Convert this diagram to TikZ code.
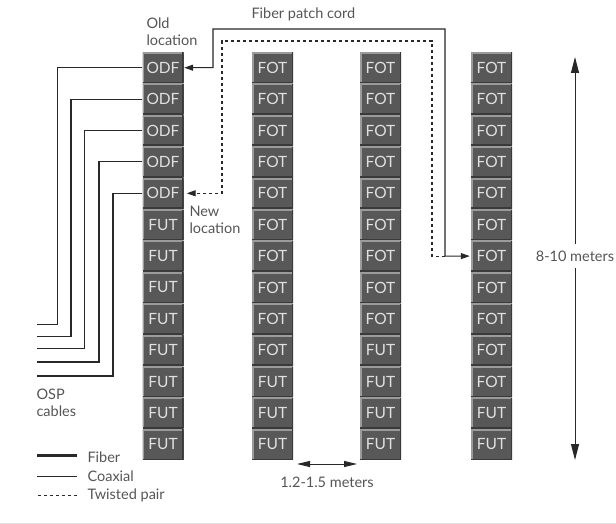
\documentclass[tikz,border=0pt]{standalone}
\usepackage{fontspec}
\setmainfont{Lato}
\usetikzlibrary{arrows.meta,positioning,calc}
\definecolor{unitfill}{RGB}{88,88,88}
\definecolor{unitlight}{RGB}{155,155,155}
\definecolor{unitdark}{RGB}{58,58,58}
\definecolor{labelgray}{RGB}{85,85,85}
\definecolor{linegray}{RGB}{40,40,40}

\begin{document}
\begin{tikzpicture}[x=1pt,y=-1pt,
  every node/.style={font=\fontsize{14.5}{17}\selectfont,text=labelgray},
  rackunit/.style={rectangle,fill=unitfill,minimum width=41pt,minimum height=30.4pt,
                   inner sep=0pt,font=\fontsize{15.5}{17}\selectfont,text=black!12,
                   path picture={
                     \draw[unitlight,line width=3pt]
                       (path picture bounding box.south west) -- (path picture bounding box.north west)
                       -- (path picture bounding box.north east);
                     \draw[unitdark,line width=2.4pt]
                       (path picture bounding box.north east) -- (path picture bounding box.south east)
                       -- (path picture bounding box.south west);}},
  cable/.style={draw=linegray,line width=1.1pt},
  cord/.style={cable,{Triangle[length=9pt,width=6pt]}-{Triangle[length=9pt,width=6pt]}},
  pair/.style={cable,dash pattern=on 3pt off 3pt,-{Triangle[length=9pt,width=6pt]}},
  dimarrow/.style={draw=linegray,line width=1pt,-{Triangle[length=16pt,width=8pt]}},
  twoway/.style={draw=linegray,line width=1pt,
                 {Triangle[length=13pt,width=6pt]}-{Triangle[length=13pt,width=6pt]}},
]
\useasboundingbox (0,0) rectangle (616,524);

% Rack column with ODF and FUT units
\foreach \row in {1,...,13}{
  \ifnum\row>5\relax\def\unit{FUT}\else\def\unit{ODF}\fi
  \node[rackunit] (c1r\row) at (163,{67.7+31.4*(\row-1)}) {\unit};
}

% Racks of FOT and FUT units
\foreach \col/\x/\last in {2/272.5/10,3/380.5/9,4/491.5/11}{
  \foreach \row in {1,...,13}{
    \ifnum\row>\last\relax\def\unit{FUT}\else\def\unit{FOT}\fi
    \node[rackunit] (c\col r\row) at (\x,{67.7+31.4*(\row-1)}) {\unit};
  }
}

% OSP cables into the ODF units
\foreach \row/\xv/\yend in {1/57.5/324.5,2/71/336.5,3/84.5/348.5,4/99/362,5/113/376}{
  \coordinate (osp\row) at (37,\yend);
  \draw[cable] (c1r\row.west) -| (\xv,\yend) -- (osp\row);
}
\node[anchor=west,align=left] (osp) at (33,403) {OSP\\cables};

% Fiber patch cord
\draw[cord,shorten <=0.5pt,shorten >=1pt] (c1r1.east) -| (213,29) -| (445,256.1) -- (c4r7.west);
\node[anchor=west] (cordlabel) at (248,14) {Fiber patch cord};
\node[anchor=west,align=left] (oldloc) at (143,32) {Old\\location};

% Twisted pair route
\draw[pair,shorten >=3pt] (445,256.1) -- (432,256.1) |- (222,41) |- (c1r5.east);
\node[anchor=west,align=left] (newloc) at (186,220) {New\\location};

% Row height
\node[inner sep=6pt] (height) at (575,256) {8-10 meters};
\coordinate (htop) at (575,57);
\coordinate (hbot) at (575,460);
\draw[dimarrow] (height.north) -- (htop);
\draw[dimarrow] (height.south) -- (hbot);

% Aisle width
\coordinate (aislel) at (297,464);
\coordinate (aisler) at (357,464);
\draw[twoway] (aislel) -- (aisler);
\node (aisle) at (327,482) {1.2-1.5 meters};

% Legend
\node[anchor=west] (fiberkey) at (84,457) {Fiber};
\node[anchor=west] (coaxkey) at (84,476.5) {Coaxial};
\node[anchor=west] (pairkey) at (84,495) {Twisted pair};
\draw[draw=linegray,line width=3pt] ($(fiberkey.west)+(-7,-1.5)$) -- ++(-40,0);
\draw[draw=linegray,line width=0.6pt] ($(coaxkey.west)+(-7,-0.5)$) -- ++(-40,0);
\draw[draw=linegray,line width=1pt,dash pattern=on 3pt off 3pt] ($(pairkey.west)+(-7,0)$) -- ++(-40,0);

\draw[black!12,line width=1pt] (0,523) -- (616,523);
\end{tikzpicture}
\end{document}
